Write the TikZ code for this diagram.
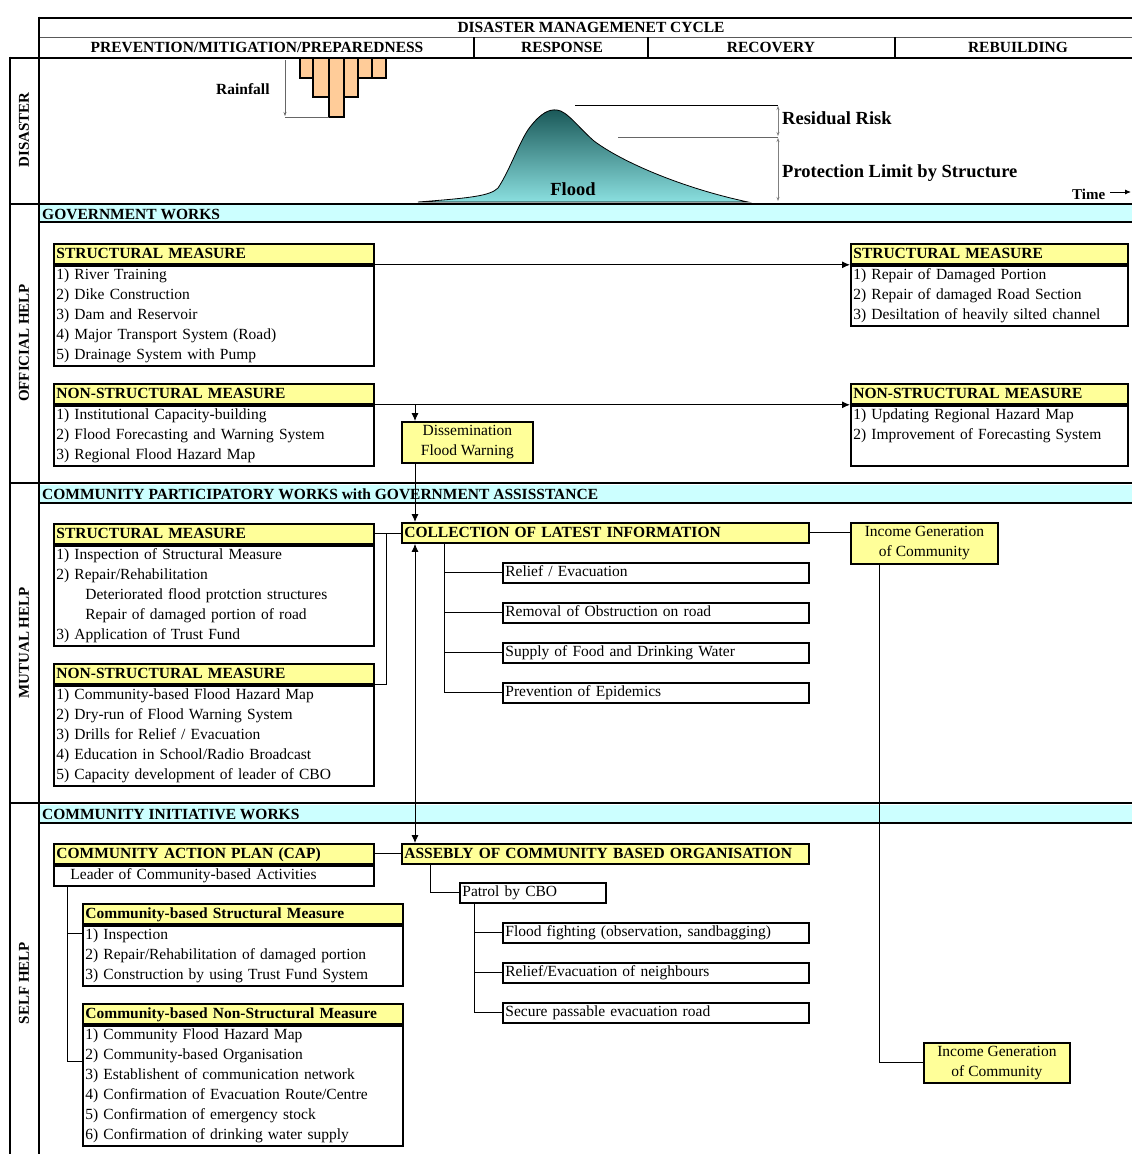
\documentclass[tikz,border=0pt]{standalone}
\usepackage{fontspec}
\setmainfont{Liberation Serif}
\usetikzlibrary{arrows.meta,calc}
\definecolor{yel}{HTML}{FFFF99}
\definecolor{cyn}{HTML}{CCFFFF}
\definecolor{peach}{HTML}{FFCC99}
\definecolor{teald}{HTML}{1A5858}
\definecolor{teall}{HTML}{8ADFDF}
\newcommand\mstr{\rule[-6.5pt]{0pt}{20pt}}
\newcommand\hstr{\rule[-5.5pt]{0pt}{20pt}}
\newcommand\cstr{\rule[-2.5pt]{0pt}{20pt}}
\tikzset{
  frame/.style={line width=2.8pt},
  hdr/.style={draw, line width=1.8pt, fill=yel, anchor=north west, minimum height=20pt,
    inner xsep=2.5pt, inner ysep=0pt, text width=#1, align=left,
    font=\fontsize{15.5}{20}\selectfont\bfseries,
    execute at begin node=\hstr, execute at end node=\hstr},
  bodybox/.style 2 args={draw, line width=1.8pt, fill=white, anchor=north west, minimum height=#2,
    inner xsep=2.5pt, inner ysep=0pt, text width=#1, align=left,
    font=\fontsize{15.5}{20}\selectfont,
    execute at begin node=\mstr, execute at end node=\mstr},
  cbox/.style 2 args={draw, line width=1.8pt, fill=yel, anchor=north west, minimum width=#1,
    minimum height=#2, inner sep=0pt, align=center, font=\fontsize{15.5}{20}\selectfont,
    execute at begin node=\cstr, execute at end node=\cstr},
  lbl/.style={anchor=base west, inner sep=0pt, font=\fontsize{15.5}{20}\selectfont\bfseries},
  side/.style={rotate=90, inner sep=0pt, font=\fontsize{15}{18}\selectfont\bfseries},
  conn/.style={line width=0.9pt},
  arr/.style={-{Latex[length=8pt,width=7pt]}},
  darr/.style={{Latex[length=8pt,width=7pt]}-{Latex[length=8pt,width=7pt]}},
  thin arr/.style={gray, line width=0.7pt, {Stealth[length=4pt,width=3pt]}-{Stealth[length=4pt,width=3pt]}}
}
\begin{document}
\begin{tikzpicture}[x=1pt,y=-1pt]
\useasboundingbox[fill=white] (0,0) rectangle (1132,1154);

% ---- bands
\fill[cyn] (40,205) rectangle (1132,222);
\fill[cyn] (40,485) rectangle (1132,503);
\fill[cyn] (40,805) rectangle (1132,823);
\draw[line width=1.8pt] (40,222) -- (1132,222);
\draw[line width=1.8pt] (40,503) -- (1132,503);
\draw[line width=1.8pt] (40,823) -- (1132,823);

% ---- flood hydrograph
\path[draw, line width=0.8pt, top color=teald, bottom color=teall]
  (418,202) .. controls (470,198) and (490,196) .. (498,188)
  .. controls (510,170) and (520,140) .. (530,127)
  .. controls (541,113) and (549,109) .. (557,110)
  .. controls (567,111) and (578,127) .. (594,141)
  .. controls (622,162) and (682,188) .. (748,202) -- cycle;
\node[lbl, anchor=base, font=\fontsize{18.5}{22}\selectfont\bfseries] (floodt) at (573,195) {Flood};

% residual risk lines
\draw[line width=0.8pt] (575,105) -- (778,105);
\draw[gray!80!black, line width=0.8pt] (618,137) -- (778,137);
\draw[thin arr] (778,106) -- (778,136);
\draw[thin arr] (778,138) -- (778,201);
\node[lbl, font=\fontsize{18.5}{22}\selectfont\bfseries] (resid) at (782,124) {Residual Risk};
\node[lbl, font=\fontsize{18.5}{22}\selectfont\bfseries] (protl) at (782,177) {Protection Limit by Structure};
\node[lbl, font=\fontsize{15}{18}\selectfont\bfseries] (timet) at (1072,199) {Time};
\coordinate (tarr) at (1131,192);
\draw[-{Latex[length=6pt,width=5pt]}, line width=0.9pt] (timet.east |- tarr) ++(5,0) -- (tarr);

% rainfall
\foreach \a/\b/\h in {300/313/78, 313/329/97, 329/344/117, 344/358/97, 358/372/78, 372/386/78}
  \filldraw[fill=peach, line width=1.8pt] (\a,58) rectangle (\b,\h);
\draw[gray!80!black, line width=0.8pt] (285,117) -- (329,117);
\draw[gray!80!black, line width=0.8pt, -{Stealth[length=4pt,width=3pt]}] (285,60) -- (285,116);
\node[lbl] (rainf) at (216,94) {Rainfall};

% ---- frame
\draw[frame] (38,18) -- (1132,18);
\draw[gray!70!black, line width=1pt] (40,37) -- (1132,37);
\draw[line width=2pt] (474,37) -- (474,58);
\draw[line width=2pt] (648,37) -- (648,58);
\draw[line width=2pt] (895,37) -- (895,58);
\draw[frame] (9,58) -- (1132,58);
\draw[frame] (9,204) -- (1132,204);
\draw[frame] (9,483) -- (1132,483);
\draw[frame] (9,803) -- (1132,803);
\draw[frame] (39,16.6) -- (39,1154);
\draw[frame] (10,56.6) -- (10,1154);

% header texts
\node[lbl, anchor=base] (hcyc) at (591,32) {DISASTER MANAGEMENET CYCLE};
\node[lbl, anchor=base] (hprev) at (257,52) {PREVENTION/MITIGATION/PREPAREDNESS};
\node[lbl, anchor=base] (hresp) at (562,52) {RESPONSE};
\node[lbl, anchor=base] (hrec) at (771,52) {RECOVERY};
\node[lbl, anchor=base] (hreb) at (1018,52) {REBUILDING};

% side labels
\node[side] (sdis) at (24,130) {DISASTER};
\node[side] (soff) at (24,343) {OFFICIAL HELP};
\node[side] (smut) at (24,643) {MUTUAL HELP};
\node[side] (sself) at (24,983) {SELF HELP};

% band labels
\node[lbl] (bgov) at (42,219) {GOVERNMENT WORKS};
\node[lbl] (bcom) at (42,499) {COMMUNITY PARTICIPATORY WORKS with GOVERNMENT ASSISSTANCE};
\node[lbl] (bini) at (42,819) {COMMUNITY INITIATIVE WORKS};

% ---- OFFICIAL HELP
\node[hdr=315pt] (osh) at (53,243) {STRUCTURAL MEASURE};
\node[bodybox={315pt}{100pt}] (osb) at (osh.south west) {1) River Training\\2) Dike Construction\\3) Dam and Reservoir\\4) Major Transport System (Road)\\5) Drainage System with Pump};
\node[hdr=315pt] (onh) at (53,383) {NON-STRUCTURAL MEASURE};
\node[bodybox={315pt}{59pt}] (onb) at (onh.south west) {1) Institutional Capacity-building\\2) Flood Forecasting and Warning System\\3) Regional Flood Hazard Map};
\node[hdr=272pt] (orsh) at (850,243) {STRUCTURAL MEASURE};
\node[bodybox={272pt}{60pt}] (orsb) at (orsh.south west) {1) Repair of Damaged Portion\\2) Repair of damaged Road Section\\3) Desiltation of heavily silted channel};
\node[hdr=272pt] (ornh) at (850,383) {NON-STRUCTURAL MEASURE};
\node[bodybox={272pt}{59pt}] (ornb) at (ornh.south west) {1) Updating Regional Hazard Map\\2) Improvement of Forecasting System\\\mbox{}};
\node[cbox={131pt}{41pt}] (diss) at (401,421) {Dissemination\\Flood Warning};

% ---- MUTUAL HELP
\node[hdr=315pt] (msh) at (53,523) {STRUCTURAL MEASURE};
\node[bodybox={315pt}{100pt}] (msb) at (msh.south west) {1) Inspection of Structural Measure\\2) Repair/Rehabilitation\\\hspace*{29pt}Deteriorated flood protction structures\\\hspace*{29pt}Repair of damaged portion of road\\3) Application of Trust Fund};
\node[hdr=315pt] (mnh) at (53,663) {NON-STRUCTURAL MEASURE};
\node[bodybox={315pt}{99pt}] (mnb) at (mnh.south west) {1) Community-based Flood Hazard Map\\2) Dry-run of Flood Warning System\\3) Drills for Relief / Evacuation\\4) Education in School/Radio Broadcast\\5) Capacity development of leader of CBO};
\node[hdr=402pt] (coll) at (401,522) {COLLECTION OF LATEST INFORMATION};
\node[bodybox={301pt}{20pt}] (r1) at (502,562) {Relief / Evacuation};
\node[bodybox={301pt}{20pt}] (r2) at (502,602) {Removal of Obstruction on road};
\node[bodybox={301pt}{20pt}] (r3) at (502,642) {Supply of Food and Drinking Water};
\node[bodybox={301pt}{20pt}] (r4) at (502,682) {Prevention of Epidemics};
\node[cbox={147pt}{41pt}] (inc1) at (850,522) {Income Generation\\of Community};

% ---- SELF HELP
\node[hdr=315pt] (caph) at (53,843) {COMMUNITY ACTION PLAN (CAP)};
\node[bodybox={315pt}{20pt}] (capb) at (caph.south west) {\hspace*{14pt}Leader of Community-based Activities};
\node[hdr=402pt] (asm) at (401,843) {ASSEBLY OF COMMUNITY BASED ORGANISATION};
\node[bodybox={141pt}{20pt}] (pat) at (459,882) {Patrol by CBO};
\node[bodybox={301pt}{20pt}] (p1) at (502,922) {Flood fighting (observation, sandbagging)};
\node[bodybox={301pt}{20pt}] (p2) at (502,962) {Relief/Evacuation of neighbours};
\node[bodybox={301pt}{20pt}] (p3) at (502,1002) {Secure passable evacuation road};
\node[hdr=315pt] (cbsh) at (82,903) {Community-based Structural Measure};
\node[bodybox={315pt}{60pt}] (cbsb) at (cbsh.south west) {1) Inspection\\2) Repair/Rehabilitation of damaged portion\\3) Construction by using Trust Fund System};
\node[hdr=315pt] (cbnh) at (82,1003) {Community-based Non-Structural Measure};
\node[bodybox={315pt}{119pt}] (cbnb) at (cbnh.south west) {1) Community Flood Hazard Map\\2) Community-based Organisation\\3) Establishent of communication network\\4) Confirmation of Evacuation Route/Centre\\5) Confirmation of emergency stock\\6) Confirmation of drinking water supply};
\node[cbox={146pt}{40pt}] (inc2) at (923,1042) {Income Generation\\of Community};

% ---- connectors
\coordinate (vx) at (415,0);
\coordinate (jx) at (386,0);
\coordinate (tx1) at (444,0);
\coordinate (tx2) at (879,0);
\coordinate (tx3) at (430,0);
\coordinate (tx4) at (474,0);
\coordinate (tx5) at (67,0);
\draw[conn,arr] (osh.south east) -- (orsh.south west);
\draw[conn,arr] (onh.south east) -- (ornh.south west);
\draw[conn,arr] (onh.south east -| vx) -- (diss.north -| vx);
\draw[conn,arr] (diss.south -| vx) -- (coll.north -| vx);
\draw[conn,darr] (coll.south -| vx) -- (asm.north -| vx);
\draw[conn] (msh.east) -- (msh.east -| coll.west);
\draw[conn] (mnh.south east) -| (msh.east -| jx);
\foreach \b in {r1,r2,r3,r4} \draw[conn] (coll.south -| tx1) |- (\b.west);
\draw[conn] (coll.east) -- (coll.east -| inc1.west);
\draw[conn] (inc1.south -| tx2) |- (inc2.west);
\draw[conn] (caph.east) -- (caph.east -| asm.west);
\draw[conn] (asm.south -| tx3) |- (pat.west);
\foreach \b in {p1,p2,p3} \draw[conn] (pat.south -| tx4) |- (\b.west);
\draw[conn] (capb.south -| tx5) |- ($(cbsb.north west)+(0,9)$);
\draw[conn] (capb.south -| tx5) |- ($(cbnb.north west)+(0,37)$);
\end{tikzpicture}
\end{document}
